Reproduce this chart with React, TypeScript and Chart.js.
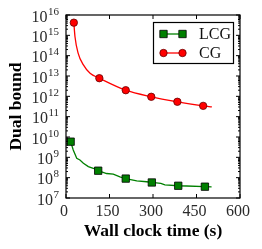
import React, { useEffect, useRef } from 'react';
import { Chart, registerables } from 'chart.js';

Chart.register(...registerables);

const xTicks = [0, 150, 300, 450, 600];
const yExponents = [7, 8, 9, 10, 11, 12, 13, 14, 15, 16];
const xTitle = 'Wall clock time (s)';
const yTitle = 'Dual bound';
const seriesNames = ['LCG', 'CG'];

const lcgTime = [16, 25, 37, 48, 60, 77, 94, 111, 140, 163, 186, 206, 244, 278, 296, 327, 341, 387, 416, 479, 502];
const lcgBound = [5.9e9, 2.3e9, 8.9e8, 7.4e8, 5.1e8, 3.5e8, 2.9e8, 2.2e8, 1.6e8, 1.5e8, 1.1e8, 9.0e7, 6.9e7, 6.3e7, 5.8e7, 5.2e7, 4.4e7, 4.0e7, 3.9e7, 3.6e7, 3.5e7];
const lcgMarkers = [0, 7, 11, 14, 17, 19];

const cgTime = [27, 31, 42, 60, 83, 115, 206, 294, 384, 473, 503];
const cgBound = [4.2e15, 8.5e14, 1.3e14, 3.5e13, 1.35e13, 7.8e12, 2.0e12, 9.5e11, 5.4e11, 3.4e11, 3.0e11];
const cgMarkers = [0, 5, 6, 7, 8, 9];

const FONT = '"Liberation Serif", "DejaVu Serif", serif';
const GREEN = '#008000';
const RED = '#ff0000';
const TICK_COLOR = '#2a2a2a';

function drawSquare(ctx: CanvasRenderingContext2D, x: number, y: number) {
  ctx.fillStyle = GREEN;
  ctx.strokeStyle = '#000';
  ctx.lineWidth = 0.8;
  ctx.beginPath();
  ctx.rect(x - 3.7, y - 3.7, 7.4, 7.4);
  ctx.fill();
  ctx.stroke();
}
function drawCircle(ctx: CanvasRenderingContext2D, x: number, y: number) {
  ctx.fillStyle = RED;
  ctx.strokeStyle = '#600';
  ctx.lineWidth = 0.8;
  ctx.beginPath();
  ctx.arc(x, y, 3.7, 0, Math.PI * 2);
  ctx.fill();
  ctx.stroke();
}

const decorations = {
  id: 'decorations',
  afterDraw(chart: any) {
    const { ctx, chartArea: a, scales } = chart;
    const x = scales.x;
    const y = scales.y;
    ctx.save();
    // frame
    ctx.strokeStyle = '#000';
    ctx.lineWidth = 1.2;
    ctx.strokeRect(a.left, a.top, a.right - a.left, a.bottom - a.top);
    // x ticks (inward, bottom and top)
    ctx.lineWidth = 1;
    ctx.beginPath();
    xTicks.forEach((v) => {
      const px = x.getPixelForValue(v);
      ctx.moveTo(px, a.bottom);
      ctx.lineTo(px, a.bottom - 4);
      ctx.moveTo(px, a.top);
      ctx.lineTo(px, a.top + 4);
    });
    // y ticks (major and minor, left and right)
    yExponents.forEach((e) => {
      const py = y.getPixelForValue(Math.pow(10, e));
      ctx.moveTo(a.left, py);
      ctx.lineTo(a.left + 4, py);
      ctx.moveTo(a.right, py);
      ctx.lineTo(a.right - 4, py);
      if (e < yExponents[yExponents.length - 1]) {
        for (let m = 2; m <= 9; m++) {
          const pm = y.getPixelForValue(m * Math.pow(10, e));
          ctx.moveTo(a.left, pm);
          ctx.lineTo(a.left + 2, pm);
          ctx.moveTo(a.right, pm);
          ctx.lineTo(a.right - 2, pm);
        }
      }
    });
    ctx.stroke();
    // y tick labels 10^e
    ctx.fillStyle = TICK_COLOR;
    yExponents.forEach((e) => {
      const py = y.getPixelForValue(Math.pow(10, e));
      const exp = String(e);
      ctx.font = `11px ${FONT}`;
      const we = ctx.measureText(exp).width;
      const right = a.left - 7;
      ctx.textAlign = 'left';
      ctx.textBaseline = 'alphabetic';
      ctx.fillText(exp, right - we, py - 0.5);
      ctx.font = `16px ${FONT}`;
      ctx.textAlign = 'right';
      ctx.fillText('10', right - we - 0.5, py + 6.5);
    });
    // legend
    const bx = 153.5, by = 22.5, bw = 80, bh = 41;
    ctx.fillStyle = '#fff';
    ctx.fillRect(bx, by, bw, bh);
    ctx.strokeStyle = '#000';
    ctx.lineWidth = 1.2;
    ctx.strokeRect(bx, by, bw, bh);
    const rows = [34, 53];
    const colors = [GREEN, RED];
    seriesNames.forEach((name, i) => {
      const ry = rows[i];
      ctx.strokeStyle = colors[i];
      ctx.lineWidth = 1.3;
      ctx.beginPath();
      ctx.moveTo(163.5, ry);
      ctx.lineTo(182.5, ry);
      ctx.stroke();
      if (i === 0) {
        drawSquare(ctx, 163.5, ry);
        drawSquare(ctx, 182.5, ry);
      } else {
        drawCircle(ctx, 163.5, ry);
        drawCircle(ctx, 182.5, ry);
      }
      ctx.fillStyle = '#111';
      ctx.font = `16px ${FONT}`;
      ctx.textAlign = 'left';
      ctx.textBaseline = 'middle';
      ctx.fillText(name, 199, ry + 1);
    });
    ctx.restore();
  },
};

export default function App() {
  const ref = useRef<HTMLCanvasElement>(null);
  useEffect(() => {
    if (!ref.current) return;
    const chart = new Chart(ref.current, {
      type: 'line',
      data: {
        datasets: [
          {
            label: seriesNames[0],
            data: lcgTime.map((t, i) => ({ x: t, y: lcgBound[i] })),
            borderColor: GREEN,
            borderWidth: 1.3,
            backgroundColor: GREEN,
            pointStyle: 'rect',
            pointRadius: (c: any) => (lcgMarkers.includes(c.dataIndex) ? 5.2 : 0),
            pointBorderColor: '#000',
            pointBorderWidth: 0.8,
            pointBackgroundColor: GREEN,
            tension: 0,
          },
          {
            label: seriesNames[1],
            data: cgTime.map((t, i) => ({ x: t, y: cgBound[i] })),
            borderColor: RED,
            borderWidth: 1.3,
            backgroundColor: RED,
            pointStyle: 'circle',
            pointRadius: (c: any) => (cgMarkers.includes(c.dataIndex) ? 3.7 : 0),
            pointBorderColor: '#600',
            pointBorderWidth: 0.8,
            pointBackgroundColor: RED,
            cubicInterpolationMode: 'monotone',
          },
        ],
      },
      options: {
        responsive: false,
        animation: false,
        devicePixelRatio: 1,
        layout: { padding: { top: 15, right: 22, left: 0, bottom: 0 } },
        plugins: { legend: { display: false }, tooltip: { enabled: false } },
        scales: {
          x: {
            type: 'linear',
            min: 0,
            max: 600,
            grid: { display: false, drawTicks: false },
            border: { display: false },
            ticks: {
              stepSize: 150,
              padding: 4,
              labelOffset: -2,
              color: TICK_COLOR,
              font: { family: FONT, size: 16 },
              maxRotation: 0,
            },
            title: {
              display: true,
              text: xTitle,
              color: '#000',
              font: { family: FONT, size: 17.5, weight: 'bold' },
              padding: { top: 0, bottom: 7 },
            },
            afterFit: (s: any) => {
              s.height = 51;
            },
          },
          y: {
            type: 'logarithmic',
            min: 1e7,
            max: 1e16,
            grid: { display: false, drawTicks: false },
            border: { display: false },
            ticks: { display: false },
            title: {
              display: true,
              text: yTitle,
              color: '#000',
              font: { family: FONT, size: 17.5, weight: 'bold' },
              padding: { top: 6, bottom: 0 },
            },
            afterFit: (s: any) => {
              s.width = 66;
            },
          },
        },
      },
      plugins: [decorations],
    });
    return () => chart.destroy();
  }, []);
  return (
    <div style={{ position: 'fixed', left: 0, top: 0, width: 262, height: 249, background: '#fff' }}>
      <canvas ref={ref} width={262} height={249} />
    </div>
  );
}
